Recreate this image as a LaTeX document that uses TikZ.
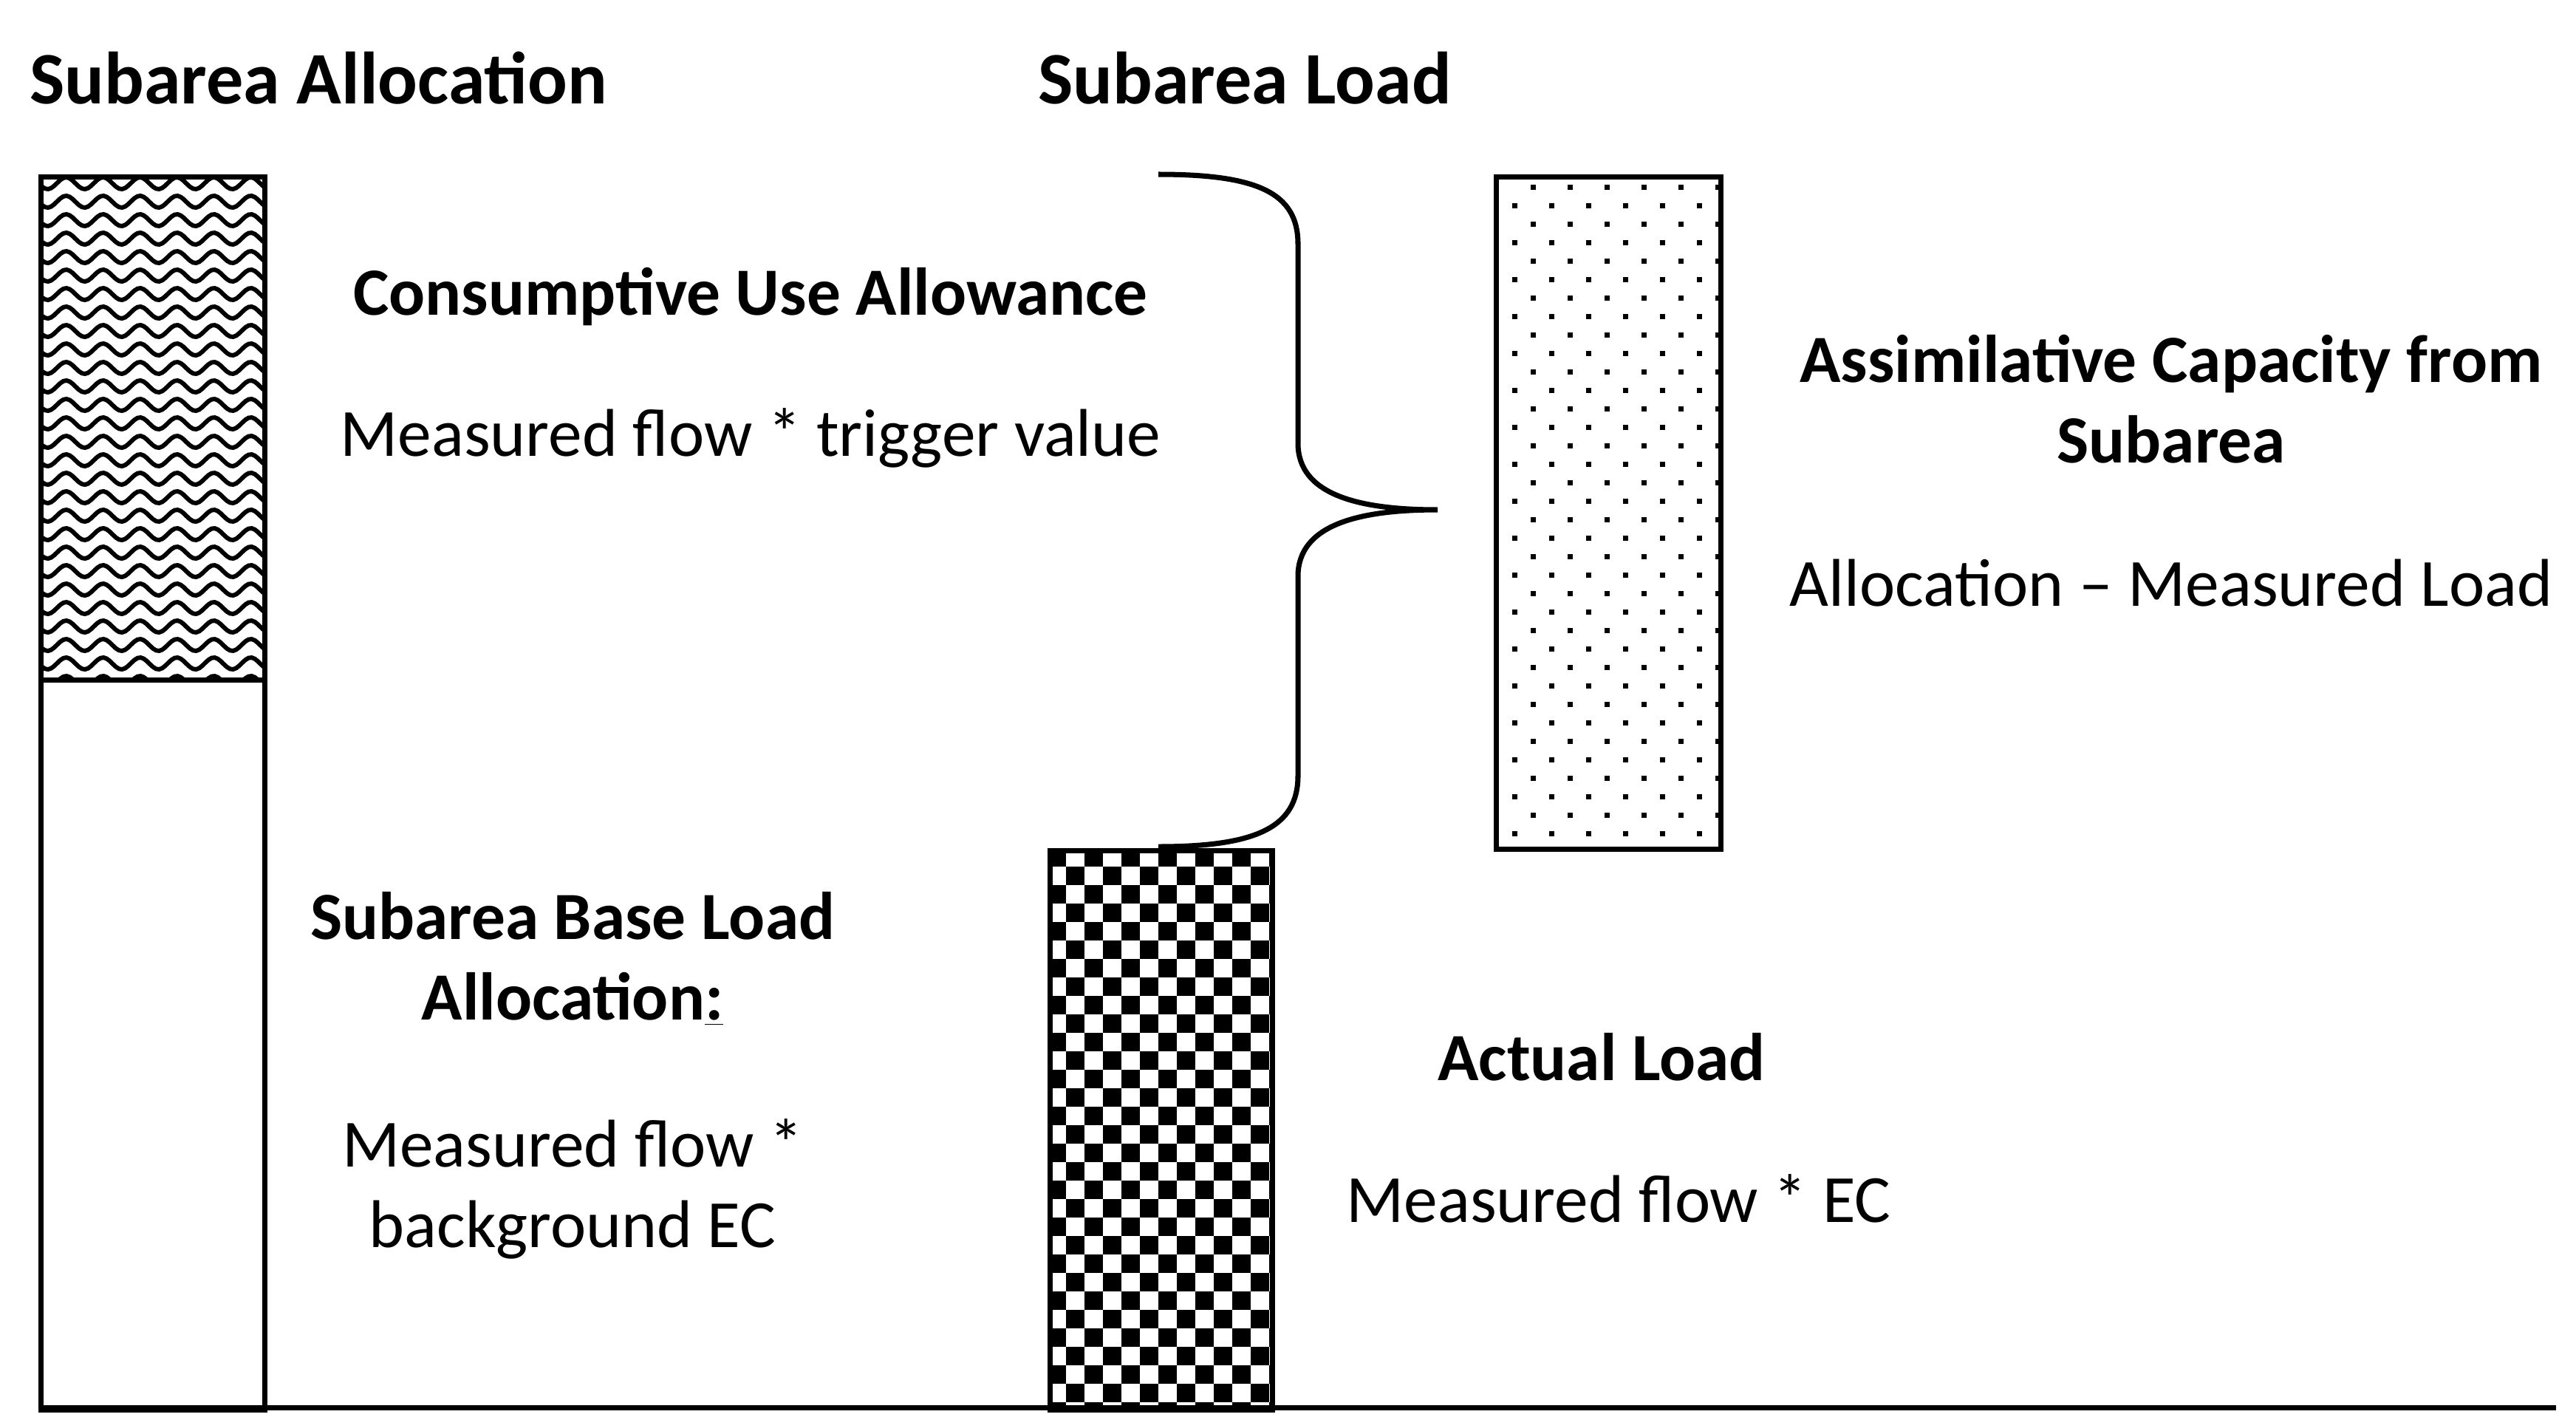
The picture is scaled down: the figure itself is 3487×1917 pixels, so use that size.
\documentclass[tikz,border=0pt]{standalone}
\usepackage{fontspec}
\setmainfont{Carlito}
\begin{document}
\begin{tikzpicture}[x=0.01cm,y=-0.01cm,
  ttl/.style={font=\fontsize{28.5}{34}\selectfont\bfseries,align=center},
  lbl/.style={font=\fontsize{26}{31}\selectfont\bfseries,align=center},
  txt/.style={font=\fontsize{26}{31}\selectfont,align=center},
  box/.style={draw,line width=2pt,inner sep=0pt}]
\useasboundingbox (0,0) rectangle (3487,1917);
% wave pattern on top of left bar
\begin{scope}
\clip (52,236) rectangle (355,917);
\foreach \r in {0,...,28}{
  \draw[line width=1.7pt] plot[domain=40:370,samples=80] (\x,{248+25*\r+8*sin((\x-52)*7.2)});
}
\end{scope}
% checkerboard
\begin{scope}
\clip (1418,1148) rectangle (1719,1905);
\foreach \i in {0,...,12}{\foreach \j in {0,...,31}{
  \pgfmathtruncatemacro\m{mod(\i+\j,2)}
  \ifnum\m=0 \fill (1418+25*\i,1148+25*\j) rectangle ++(25,25);\fi
}}
\end{scope}
% dots
\begin{scope}
\clip (2022,236) rectangle (2326,1146);
\foreach \j in {0,...,36}{\foreach \i in {0,...,7}{
  \pgfmathsetmacro\xo{2022+50*\i+25*mod(\j,2)}
  \fill (\xo,250+25*\j) rectangle ++(7,7);
}}
\end{scope}
\node[box,minimum width=303*0.01cm,minimum height=681*0.01cm,anchor=north west] (cua) at (52,236) {};
\node[box,minimum width=303*0.01cm,minimum height=988*0.01cm,anchor=north west] (base) at (52,917) {};
\node[box,minimum width=301*0.01cm,minimum height=757*0.01cm,anchor=north west] (act) at (1418,1148) {};
\node[box,minimum width=304*0.01cm,minimum height=910*0.01cm,anchor=north west] (assim) at (2022,236) {};
\coordinate (axL) at (52,1905);
\coordinate (axR) at (3460,1905);
\draw[line width=2pt] (axL) -- (axR);
% brace
\coordinate (bT) at (1568,236);
\coordinate (bM) at (1946,690);
\coordinate (bB) at (1568,1146);
\draw[line width=2pt] (bT) .. controls (1700,236) and (1757,260) .. (1757,330) -- (1757,600)
  .. controls (1757,670) and (1840,690) .. (bM)
  .. controls (1840,690) and (1757,710) .. (1757,780) -- (1757,1050)
  .. controls (1757,1120) and (1700,1146) .. (bB);
% texts
\node[ttl] (t1) at (431,106) {Subarea Allocation};
\node[ttl] (t2) at (1685,106) {Subarea Load};
\node[lbl] (c1) at (1016,402) {Consumptive Use Allowance};
\node[txt] (c2) at (1016,593) {Measured flow * trigger value};
\node[lbl] (a1) at (2939,540) {Assimilative Capacity from\\Subarea};
\node[txt] (a2) at (2939,789) {Allocation – Measured Load};
\node[lbl] (b1) at (775,1298) {Subarea Base Load\\Allocation\underline{:}};
\node[txt] (b2) at (775,1609) {Measured flow *\\background EC};
\node[lbl] (l1) at (2168,1431) {Actual Load};
\node[txt] (l2) at (2191,1622) {Measured flow * EC};
\end{tikzpicture}
\end{document}
